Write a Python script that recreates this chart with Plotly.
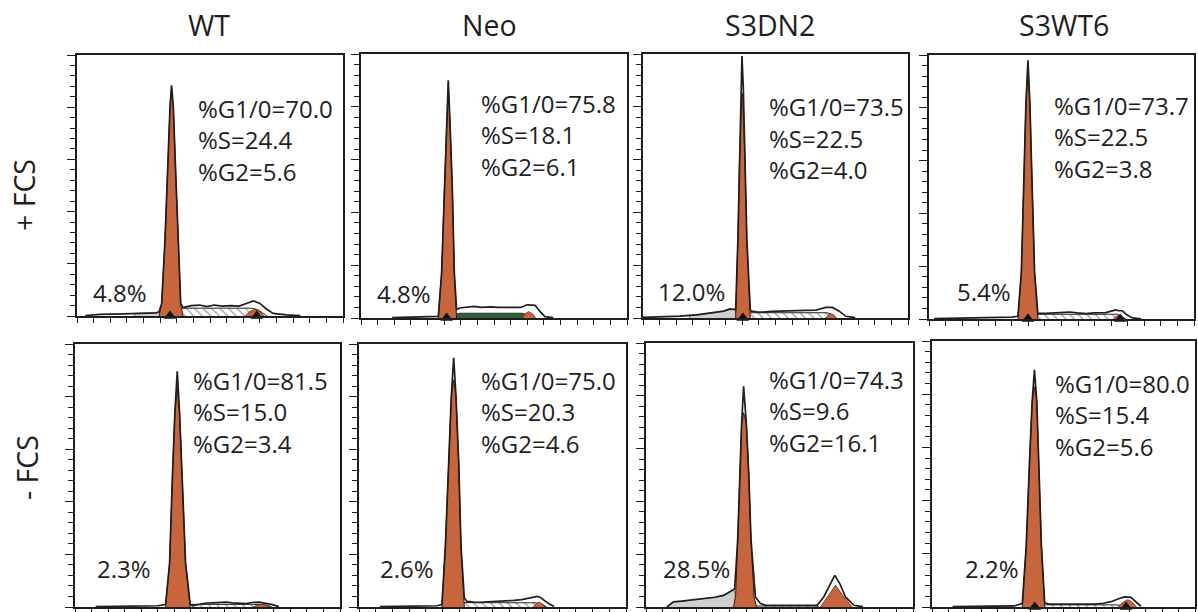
import plotly.graph_objects as go

# ---------------- data ----------------
CELL_LINES = ["WT", "Neo", "S3DN2", "S3WT6"]
CONDITIONS = ["+ FCS", "- FCS"]

# panel order: +FCS WT, Neo, S3DN2, S3WT6, then -FCS WT, Neo, S3DN2, S3WT6
G1_PCT = ["70.0", "75.8", "73.5", "73.7", "81.5", "75.0", "74.3", "80.0"]
S_PCT = ["24.4", "18.1", "22.5", "22.5", "15.0", "20.3", "9.6", "15.4"]
G2_PCT = ["5.6", "6.1", "4.0", "3.8", "3.4", "4.6", "16.1", "5.6"]
SUBG1_PCT = ["4.8", "4.8", "12.0", "5.4", "2.3", "2.6", "28.5", "2.2"]

# DNA-content histograms (channel, count)
# ---- +FCS WT
PWT_ENV = [(8, 0.5), (22, 1.5), (45, 2), (65, 2.5), (76, 3), (79, 4), (81.5, 12), (84.7, 73), (86.9, 137),
           (89.5, 200), (91, 221), (92.7, 200), (95, 137), (97.5, 73), (99.8, 12), (102, 8), (110, 10),
           (118, 10.5), (125, 9), (132, 10.5), (140, 9.5), (148, 10), (156, 9.5), (163, 12), (169.6, 14.5),
           (176, 12), (182.5, 6.5), (188.8, 2.5), (201.7, 1), (215, 0.3)]
PWT_G1 = [(79, 0), (81.5, 12), (84.7, 73), (86.9, 137), (89.5, 200), (91, 219), (92.7, 200), (95, 137),
          (97.5, 73), (99.8, 12), (102, 0)]
PWT_S = [(89, 0), (92, 4), (96, 6.5), (102, 7.5), (140, 7.5), (168, 7.5), (174, 6), (180, 2), (183, 0)]
PWT_G2 = [(162, 0), (166, 4), (171, 6.5), (176, 4), (180, 0)]
PWT_SUB = [(55, 0), (56, 2.5), (70, 2.8), (80, 3.5), (84, 0)]
PWT_MARK = [89.5, 173]
# ---- +FCS Neo
PNEO_ENV = [(30, 0.3), (50, 1), (70, 1.2), (74.4, 1.5), (77.6, 43), (80.2, 122.6), (82.4, 186.5), (84, 225),
            (85.6, 186.5), (87.9, 122.6), (89.8, 43), (92, 8), (95, 9.5), (101, 10), (108.7, 11), (116, 10),
            (124.7, 10.5), (132, 10), (140.8, 10), (148, 10), (153.6, 10), (159.9, 12.5), (167.5, 12),
            (172.4, 6), (177, 1.3), (185, 0.3)]
PNEO_G1 = [(74.4, 0), (77.6, 43), (80.2, 122.6), (82.4, 186.5), (84, 222), (85.6, 186.5), (87.9, 122.6),
           (89.8, 43), (92, 0)]
PNEO_S = [(86, 0), (89, 3), (95, 4.5), (130, 4.5), (155, 4.5), (160, 3), (164, 0)]
PNEO_G2 = [(155, 0), (158, 4), (161.4, 6), (165, 4), (168, 0)]
PNEO_SUB = []
PNEO_MARK = [82.4]
# ---- +FCS S3DN2
PDN2_ENV = [(0, 0.5), (19.6, 1), (35.6, 1.8), (51.6, 3), (67.6, 4.8), (78, 6.5), (83.6, 8.6), (89.5, 8),
            (91.7, 75), (93.3, 155), (94.6, 218), (95.6, 248), (96.9, 218), (98.4, 155), (100.3, 75),
            (103.6, 8), (104.6, 6.5), (110, 5.8), (115.8, 5.5), (124, 6.2), (131.8, 6.5), (140, 7),
            (147.9, 7.5), (157, 7.3), (167, 7.5), (172, 9), (176.7, 10), (183, 10), (189.5, 6.5),
            (195.9, 1.6), (205, 0.3)]
PDN2_G1 = [(89.5, 0), (91.7, 75), (93.3, 155), (95.1, 210), (95.6, 213), (96.3, 210), (98.4, 155),
           (100.3, 75), (103.6, 0)]
PDN2_S = [(97, 0), (100, 3.5), (104, 5), (140, 5), (178, 5), (183, 3), (186, 0)]
PDN2_G2 = [(176, 0), (179, 3), (181, 4.3), (184, 3), (187, 0)]
PDN2_SUB = [(45, 0), (45, 2.5), (55, 3.2), (67.6, 4.8), (78, 6.5), (85, 8), (89, 8), (90, 0)]
PDN2_MARK = [96.5]
# ---- +FCS S3WT6
PWT6_ENV = [(5, 0.3), (30, 0.8), (60, 1.2), (80, 1.8), (85.9, 2.6), (89.2, 44), (91.4, 123), (93.6, 203),
            (95.6, 245), (97.5, 203), (99.7, 123), (102, 44), (105.2, 4.3), (106.5, 5.3), (113, 5.3),
            (119.6, 5.5), (127, 6), (135.7, 6.6), (143, 5.8), (151.7, 5.2), (160, 5.8), (170.9, 6),
            (176, 7.5), (180.5, 8.6), (183, 7.8), (186.9, 7.8), (191, 4), (196.5, 1), (205, 0.2)]
PWT6_G1 = [(85.9, 0), (89.2, 44), (91.4, 123), (93.6, 203), (95.6, 238), (97.5, 203), (99.7, 123),
           (102, 44), (105.2, 0)]
PWT6_S = [(96, 0), (99, 3), (104, 4.5), (150, 4.5), (182, 4.5), (187, 2), (190, 0)]
PWT6_G2 = [(178, 0), (181, 2.5), (183.7, 3.5), (186.5, 2.5), (189, 0)]
PWT6_SUB = []
PWT6_MARK = [95.6, 184.7]
# ---- -FCS WT
MWT_ENV = [(20, 0.3), (60, 0.8), (80, 1.2), (87.5, 2.3), (91.4, 42), (94, 121), (96.5, 185), (98.8, 224),
           (101, 185), (103.6, 121), (106.8, 42), (111.3, 2.3), (113.8, 1.3), (120, 2.5), (127, 3.8),
           (133, 4), (140, 4.5), (145.9, 4.6), (152, 4), (158, 3.5), (165, 3.3), (171, 4.3), (177.9, 4.6),
           (184, 3.5), (190.7, 2.3), (197, 0.3)]
MWT_G1 = [(87.5, 0), (91.4, 42), (94, 121), (96.5, 185), (98.8, 208), (101, 185), (103.6, 121),
          (106.8, 42), (111.3, 0)]
MWT_S = [(100, 0), (104, 1.5), (110, 2.5), (180, 2.5), (186, 1.5), (190, 0)]
MWT_G2 = [(172, 0), (176, 1.8), (180, 2.5), (184, 1.8), (188, 0)]
MWT_SUB = []
MWT_MARK = []
# ---- -FCS Neo
MNEO_ENV = [(20, 0.3), (60, 0.7), (75, 1.2), (79.5, 2.3), (82.8, 57.6), (86, 137), (88.5, 200),
            (90.8, 237), (93, 200), (95.6, 137), (97.8, 57.6), (101, 8.6), (103.6, 5.3), (110, 4.6),
            (116.4, 4.4), (124, 5), (132.4, 5.3), (140, 5.8), (148.5, 6.3), (156, 7), (164.5, 8.6),
            (170.9, 10), (174, 9), (177.4, 6.3), (182, 3), (187, 0.6)]
MNEO_G1 = [(79.5, 0), (82.8, 57.6), (86, 137), (88.5, 200), (90.8, 216), (93, 200), (95.6, 137),
           (97.8, 57.6), (101, 0)]
MNEO_S = [(88, 0), (92, 3), (97, 4.2), (140, 4), (170, 4), (176, 2.5), (180, 0)]
MNEO_G2 = [(167, 0), (170, 3), (172.6, 4.6), (175.5, 3), (178, 0)]
MNEO_SUB = []
MNEO_MARK = []
# ---- -FCS S3DN2
MDN2_ENV = [(20, 0), (23, 2), (26.3, 4.8), (34, 5.5), (42.3, 6.3), (50, 7), (58.3, 7.9), (66, 9.2),
            (74.4, 11), (79, 13.5), (82.4, 16), (85, 17), (87.9, 63.3), (89.8, 126.6), (91.7, 174),
            (93.6, 209), (96.2, 174), (98.5, 126.6), (100.7, 63.3), (104.9, 9.5), (109.7, 3.3), (115, 1.6),
            (130, 1.6), (150, 1.6), (164, 1.6), (170.4, 9.5), (176.8, 22), (181, 30), (185.9, 22),
            (191.3, 9.5), (199.3, 1.6), (208, 0.3)]
MDN2_G1 = [(84, 0), (86, 12), (87.9, 63.3), (89.8, 126.6), (91.7, 174), (93.6, 184), (96.2, 174),
           (98.5, 126.6), (100.7, 63.3), (103.5, 10), (106, 0)]
MDN2_S = [(104, 0), (106, 1), (164, 1), (166, 0)]
MDN2_G2 = [(167.3, 0), (173.6, 9.5), (181.7, 20.6), (189.7, 9.5), (197.7, 0)]
MDN2_SUB = [(20, 0), (23, 2), (26.3, 4.8), (34, 5.5), (42.3, 6.3), (50, 7), (58.3, 7.9), (66, 9.2),
            (74.4, 11), (79, 13.5), (82.4, 16), (85, 15), (87, 0)]
MDN2_MARK = []
# ---- -FCS S3WT6
MWT6_ENV = [(20, 0.3), (60, 0.6), (80, 1), (87.9, 3.3), (91.7, 57), (94.9, 136), (97.5, 193), (99.7, 223),
            (102, 193), (103.9, 136), (106.5, 57), (109.7, 4), (113.5, 2.7), (125, 2.7), (139.2, 2.7),
            (150, 2.5), (158.4, 2.7), (167, 3.5), (174.4, 5), (181, 7.5), (187.2, 9.5), (193.6, 9),
            (200, 3.3), (203.3, 0.7)]
MWT6_G1 = [(87.9, 0), (91.7, 57), (94.9, 136), (97.5, 193), (99.7, 207), (102, 193), (103.9, 136),
           (106.5, 57), (109.7, 0)]
MWT6_S = [(100, 0), (104, 1.5), (110, 2), (180, 2), (188, 1), (192, 0)]
MWT6_G2 = [(181, 0), (186, 4.5), (190.4, 6.9), (195, 4.5), (199, 0)]
MWT6_SUB = []
MWT6_MARK = [100, 188.9]

PANELS = [
    (PWT_ENV, PWT_G1, PWT_S, PWT_G2, PWT_SUB, PWT_MARK),
    (PNEO_ENV, PNEO_G1, PNEO_S, PNEO_G2, PNEO_SUB, PNEO_MARK),
    (PDN2_ENV, PDN2_G1, PDN2_S, PDN2_G2, PDN2_SUB, PDN2_MARK),
    (PWT6_ENV, PWT6_G1, PWT6_S, PWT6_G2, PWT6_SUB, PWT6_MARK),
    (MWT_ENV, MWT_G1, MWT_S, MWT_G2, MWT_SUB, MWT_MARK),
    (MNEO_ENV, MNEO_G1, MNEO_S, MNEO_G2, MNEO_SUB, MNEO_MARK),
    (MDN2_ENV, MDN2_G1, MDN2_S, MDN2_G2, MDN2_SUB, MDN2_MARK),
    (MWT6_ENV, MWT6_G1, MWT6_S, MWT6_G2, MWT6_SUB, MWT6_MARK),
]

# ---------------- layout / style ----------------
W, H = 1198, 612
# panel boxes in pixels: left, right, top, bottom
BOXES = [(77, 343, 55, 316), (361, 627, 54, 318), (643, 908, 54, 318), (929, 1194, 55, 319),
         (75, 340, 344, 607), (359, 626, 344, 607), (646, 913, 343, 607), (932, 1195, 341, 607)]
STAT_POS = [(196.0, 108.3), (478.5, 103.3), (766.5, 106.7), (1052.0, 105.0),
            (191.0, 380.0), (478.5, 380.0), (767.0, 379.3), (1052.5, 383.3)]
LINE_GAP = 31.5
PCT_POS = [(91.0, 292.3), (374.5, 293.3), (655.5, 291.7), (954.5, 291.7),
           (94.5, 568.3), (377.8, 568.3), (661.0, 568.3), (962.8, 568.3)]
TITLE_X = [209, 490, 770, 1064]
ROW_LABEL_POS = [(24, 195), (27, 468)]

ORANGE = "#C8653C"
INK = "#1E1E1E"
FONT = "Open Sans"
TXT_SIZE = 24
HEAD_SIZE = 28.5
S_STYLE = ["hatch", "green", "hatch", "hatch", "hatch", "hatch", "hatch", "hatch"]


def px(x):
    return x / W


def py(y):
    return 1 - y / H


fig = go.Figure()
layout_axes = {}
annotations = []

for i, (env, g1, s, g2, sub, marks) in enumerate(PANELS):
    n = i + 1
    xa = "x" if n == 1 else f"x{n}"
    ya = "y" if n == 1 else f"y{n}"
    l, r, t, b = BOXES[i]

    if sub:
        fig.add_trace(go.Scatter(x=[p[0] for p in sub], y=[p[1] for p in sub], xaxis=xa, yaxis=ya,
                                 mode="lines", fill="tozeroy", fillcolor="#CFCFCF",
                                 line=dict(color="#555", width=0.8), hoverinfo="skip"))
    if s:
        if S_STYLE[i] == "green":
            fig.add_trace(go.Scatter(x=[p[0] for p in s], y=[p[1] for p in s], xaxis=xa, yaxis=ya,
                                     mode="lines", fill="tozeroy", fillcolor="#2F5E3C",
                                     line=dict(color="#1E3A26", width=1), hoverinfo="skip"))
        else:
            fig.add_trace(go.Scatter(x=[p[0] for p in s], y=[p[1] for p in s], xaxis=xa, yaxis=ya,
                                     mode="lines", fill="tozeroy",
                                     fillpattern=dict(shape="\\", fgcolor="#333", bgcolor="white",
                                                      size=6, solidity=0.2),
                                     line=dict(color="#222", width=1), hoverinfo="skip"))
    fig.add_trace(go.Scatter(x=[p[0] for p in g2], y=[p[1] for p in g2], xaxis=xa, yaxis=ya,
                             mode="lines", fill="tozeroy", fillcolor=ORANGE,
                             line=dict(color="#5a2a15", width=0.8), hoverinfo="skip"))
    fig.add_trace(go.Scatter(x=[p[0] for p in g1], y=[p[1] for p in g1], xaxis=xa, yaxis=ya,
                             mode="lines", fill="tozeroy", fillcolor=ORANGE,
                             line=dict(color="#3a1c10", width=1), hoverinfo="skip"))
    fig.add_trace(go.Scatter(x=[p[0] for p in env], y=[p[1] for p in env], xaxis=xa, yaxis=ya,
                             mode="lines", line=dict(color=INK, width=1.7), hoverinfo="skip"))
    if marks:
        fig.add_trace(go.Scatter(x=marks, y=[0] * len(marks), xaxis=xa, yaxis=ya, mode="markers",
                                 marker=dict(symbol="triangle-up", size=11, color="#111"),
                                 cliponaxis=False, hoverinfo="skip"))

    xkey = "xaxis" if n == 1 else f"xaxis{n}"
    ykey = "yaxis" if n == 1 else f"yaxis{n}"
    layout_axes[xkey] = dict(domain=[px(l), px(r)], anchor=ya, range=[0, 256], showgrid=False,
                             zeroline=False, showline=True, linecolor=INK, linewidth=2, mirror=True,
                             ticks="outside", tickmode="linear", tick0=0, dtick=16, ticklen=5,
                             tickwidth=1, tickcolor=INK, showticklabels=False, fixedrange=True)
    layout_axes[ykey] = dict(domain=[py(b), py(t)], anchor=xa, range=[0, 250], showgrid=False,
                             zeroline=False, showline=True, linecolor=INK, linewidth=2, mirror=True,
                             ticks="outside", tickmode="linear", tick0=0, dtick=50, ticklen=8,
                             tickwidth=1, tickcolor=INK, showticklabels=False, fixedrange=True,
                             minor=dict(ticks="outside", dtick=10, tick0=0, ticklen=5, tickwidth=1,
                                        tickcolor=INK))

    sx, sy = STAT_POS[i]
    for k, txt in enumerate([f"%G1/0={G1_PCT[i]}", f"%S={S_PCT[i]}", f"%G2={G2_PCT[i]}"]):
        annotations.append(dict(x=px(sx), y=py(sy + k * LINE_GAP), xref="paper", yref="paper",
                                text=txt, showarrow=False, xanchor="left", yanchor="middle",
                                font=dict(family=FONT, size=TXT_SIZE, color=INK)))
    qx, qy = PCT_POS[i]
    annotations.append(dict(x=px(qx), y=py(qy), xref="paper", yref="paper", text=f"{SUBG1_PCT[i]}%",
                            showarrow=False, xanchor="left", yanchor="middle",
                            font=dict(family=FONT, size=TXT_SIZE, color=INK)))

for j, name in enumerate(CELL_LINES):
    annotations.append(dict(x=px(TITLE_X[j]), y=py(25), xref="paper", yref="paper", text=name,
                            showarrow=False, xanchor="center", yanchor="middle",
                            font=dict(family=FONT, size=HEAD_SIZE, color=INK)))

for j, cond in enumerate(CONDITIONS):
    rx, ry = ROW_LABEL_POS[j]
    annotations.append(dict(x=px(rx), y=py(ry), xref="paper", yref="paper", text=cond, textangle=-90,
                            showarrow=False, xanchor="center", yanchor="middle",
                            font=dict(family=FONT, size=HEAD_SIZE, color=INK)))

fig.update_layout(width=W, height=H, margin=dict(l=0, r=0, t=0, b=0), autosize=False,
                  paper_bgcolor="white", plot_bgcolor="white", showlegend=False,
                  annotations=annotations, **layout_axes)

fig.write_html("out.html", config={"displayModeBar": False},
               post_script="document.body.style.margin='0';document.body.style.overflow='hidden';")
